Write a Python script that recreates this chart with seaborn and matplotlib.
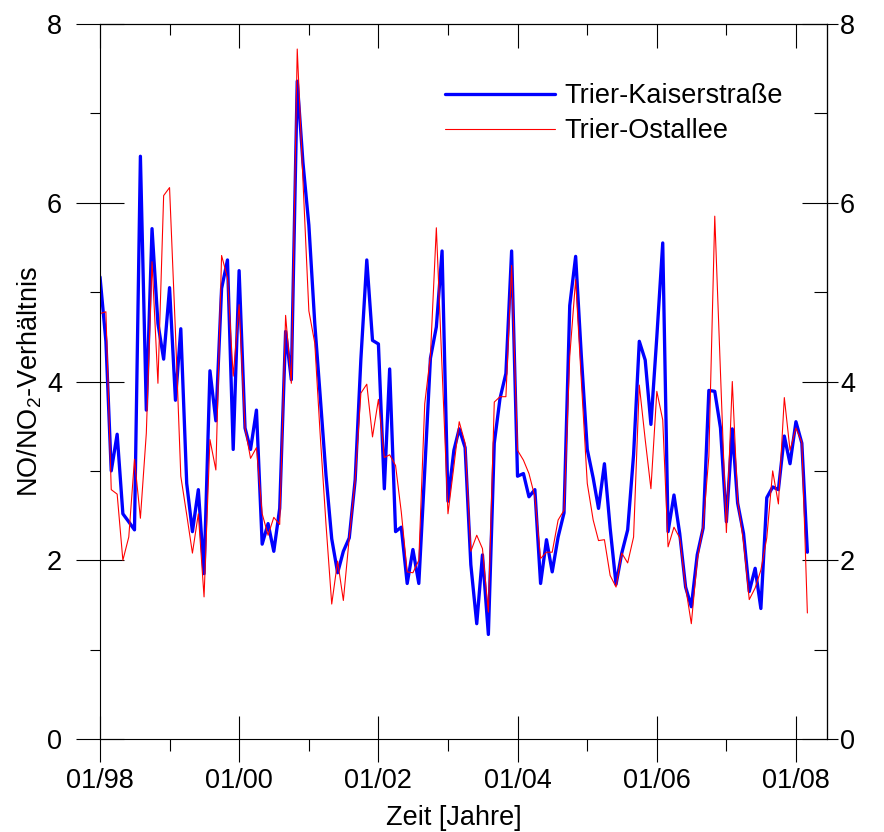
import matplotlib
matplotlib.use("Agg")
import matplotlib.pyplot as plt
import matplotlib.dates as mdates
import pandas as pd
import seaborn as sns

# Monthly NO/NO2 ratios, Jan 1998 - Mar 2008
kaiserstrasse = [
    5.17, 4.45, 3.00, 3.41, 2.52, 2.43, 2.34, 6.52, 3.68, 5.71, 4.65, 4.25,
    5.05, 3.79, 4.59, 2.86, 2.32, 2.79, 1.85, 4.12, 3.56, 5.04, 5.36, 3.24,
    5.24, 3.48, 3.24, 3.68, 2.18, 2.41, 2.10, 2.58, 4.56, 4.02, 7.36, 6.45,
    5.75, 4.65, 3.85, 2.95, 2.24, 1.86, 2.10, 2.25, 2.90, 4.25, 5.36, 4.46,
    4.42, 2.80, 4.14, 2.32, 2.37, 1.74, 2.12, 1.74, 3.00, 4.26, 4.61, 5.46,
    2.66, 3.23, 3.47, 3.26, 1.95, 1.29, 2.06, 1.17, 3.31, 3.81, 4.09, 5.46,
    2.94, 2.97, 2.71, 2.79, 1.74, 2.23, 1.87, 2.26, 2.53, 4.85, 5.40, 4.28,
    3.24, 2.92, 2.58, 3.08, 2.36, 1.73, 2.08, 2.34, 3.18, 4.45, 4.24, 3.52,
    4.50, 5.55, 2.32, 2.73, 2.30, 1.70, 1.48, 2.06, 2.36, 3.90, 3.89, 3.48,
    2.43, 3.47, 2.64, 2.30, 1.65, 1.91, 1.46, 2.70, 2.82, 2.79, 3.39, 3.08,
    3.55, 3.31, 2.09,
]
ostallee = [
    4.76, 4.78, 2.79, 2.74, 2.00, 2.26, 3.13, 2.47, 3.42, 5.34, 3.98, 6.08,
    6.17, 4.55, 2.94, 2.51, 2.08, 2.52, 1.59, 3.35, 3.01, 5.41, 5.16, 4.06,
    4.86, 3.48, 3.14, 3.26, 2.52, 2.28, 2.48, 2.40, 4.74, 3.98, 7.72, 6.25,
    4.79, 4.43, 3.42, 2.40, 1.51, 1.99, 1.55, 2.25, 2.90, 3.87, 3.97, 3.38,
    3.80, 3.15, 3.18, 3.06, 2.54, 1.87, 1.86, 2.00, 3.75, 4.29, 5.72, 4.15,
    2.52, 3.05, 3.55, 3.31, 2.10, 2.28, 2.13, 1.42, 3.77, 3.83, 3.83, 5.30,
    3.23, 3.12, 2.97, 2.71, 2.02, 2.09, 2.09, 2.45, 2.56, 4.28, 5.14, 4.00,
    2.86, 2.45, 2.22, 2.23, 1.83, 1.70, 2.08, 1.97, 2.26, 3.96, 3.35, 2.80,
    3.89, 3.57, 2.15, 2.37, 2.25, 1.70, 1.29, 2.00, 2.38, 3.16, 5.85, 4.10,
    2.31, 4.00, 2.67, 2.20, 1.56, 1.69, 1.89, 2.25, 3.00, 2.63, 3.82, 3.23,
    3.48, 3.32, 1.41,
]
series_labels = ["Trier-Kaiserstraße", "Trier-Ostallee"]
x_major_years = [1998, 2000, 2002, 2004, 2006, 2008]
x_minor_years = [1999, 2001, 2003, 2005, 2007]
x_tick_labels = ["01/98", "01/00", "01/02", "01/04", "01/06", "01/08"]
y_major = [0, 2, 4, 6, 8]
y_minor = [1, 3, 5, 7]

months = pd.date_range("1998-01-01", periods=len(kaiserstrasse), freq="MS")
df = pd.DataFrame({"Monat": months, "kaiser": kaiserstrasse, "ost": ostallee})

sns.set_style("ticks")
plt.rcParams["font.family"] = ["Liberation Sans", "DejaVu Sans"]
plt.rcParams["mathtext.fontset"] = "custom"
plt.rcParams["mathtext.rm"] = "Liberation Sans"
plt.rcParams["mathtext.default"] = "regular"
plt.rcParams["axes.edgecolor"] = "black"
plt.rcParams["axes.linewidth"] = 0.8
plt.rcParams["xtick.color"] = "black"
plt.rcParams["ytick.color"] = "black"
plt.rcParams["text.color"] = "black"
plt.rcParams["axes.labelcolor"] = "black"

PX = 0.72  # points per pixel at 100 dpi
FS = 19.5

fig = plt.figure(figsize=(8.84, 8.32), dpi=100)
ax = fig.add_axes([100 / 884, 1 - 739 / 832, 727 / 884, 715 / 832])

sns.lineplot(data=df, x="Monat", y="kaiser", color="#0000ff", linewidth=3.0 * PX * 1.1,
             label=series_labels[0], ax=ax, estimator=None)
sns.lineplot(data=df, x="Monat", y="ost", color="#ff0000", linewidth=1.1 * PX,
             label=series_labels[1], ax=ax, estimator=None)

start = pd.Timestamp("1998-01-01")
end = start + pd.Timedelta(days=3815)
ax.set_xlim(start, end)
ax.set_ylim(0, 8)

major_x = [mdates.date2num(pd.Timestamp(f"{y}-01-01")) for y in x_major_years]
minor_x = [mdates.date2num(pd.Timestamp(f"{y}-01-01")) for y in x_minor_years]
ax.set_xticks(major_x)
ax.set_xticklabels(x_tick_labels)
ax.set_xticks(minor_x, minor=True)
ax.set_yticks(y_major)
ax.set_yticklabels([str(v) for v in y_major])
ax.set_yticks(y_minor, minor=True)

ax.tick_params(axis="x", which="major", direction="inout", length=47 * PX, width=0.8,
               pad=3.6, labelsize=FS, top=False, labelcolor="black")
ax.tick_params(axis="x", which="minor", direction="out", length=12 * PX, width=0.8, top=False)
ax.tick_params(axis="y", which="major", direction="inout", length=48 * PX, width=0.8,
               pad=10, labelsize=FS, right=False, labelcolor="black")
ax.tick_params(axis="y", which="minor", direction="out", length=10 * PX, width=0.8, right=False)

# top edge: inward ticks only
secx = ax.secondary_xaxis("top")
secx.set_xticks(major_x)
secx.set_xticks(minor_x, minor=True)
secx.tick_params(axis="x", which="major", direction="in", length=24 * PX, width=0.8, labeltop=False)
secx.tick_params(axis="x", which="minor", direction="in", length=11 * PX, width=0.8)

# right edge: inward ticks plus short outward ticks carrying the labels
secy_in = ax.secondary_yaxis("right")
secy_in.set_yticks(y_major)
secy_in.set_yticks(y_minor, minor=True)
secy_in.tick_params(axis="y", which="major", direction="in", length=25 * PX, width=0.8, labelright=False)
secy_in.tick_params(axis="y", which="minor", direction="in", length=13 * PX, width=0.8)

secy_out = ax.secondary_yaxis("right")
secy_out.set_yticks(y_major)
secy_out.set_yticklabels([str(v) for v in y_major])
secy_out.tick_params(axis="y", which="major", direction="out", length=11 * PX, width=0.8,
                     pad=1.5, labelsize=FS, labelcolor="black")

ax.set_ylabel("NO/NO$_2$-Verhältnis", fontsize=FS, labelpad=2)
ax.set_xlabel("Zeit [Jahre]", fontsize=FS)
ax.xaxis.set_label_coords((454 - 100) / 727, (739 - 805) / 715)

ax.legend(loc="upper left", bbox_to_anchor=(445 / 884, 1 - 83 / 832),
          bbox_transform=fig.transFigure, frameon=False, fontsize=FS,
          handlelength=4.05, handletextpad=0.37, labelspacing=0.35,
          borderpad=0, borderaxespad=0)

for side in ["top", "right", "left", "bottom"]:
    ax.spines[side].set_visible(True)
    ax.spines[side].set_color("black")

fig.savefig("out.png", dpi=100, facecolor="white")
